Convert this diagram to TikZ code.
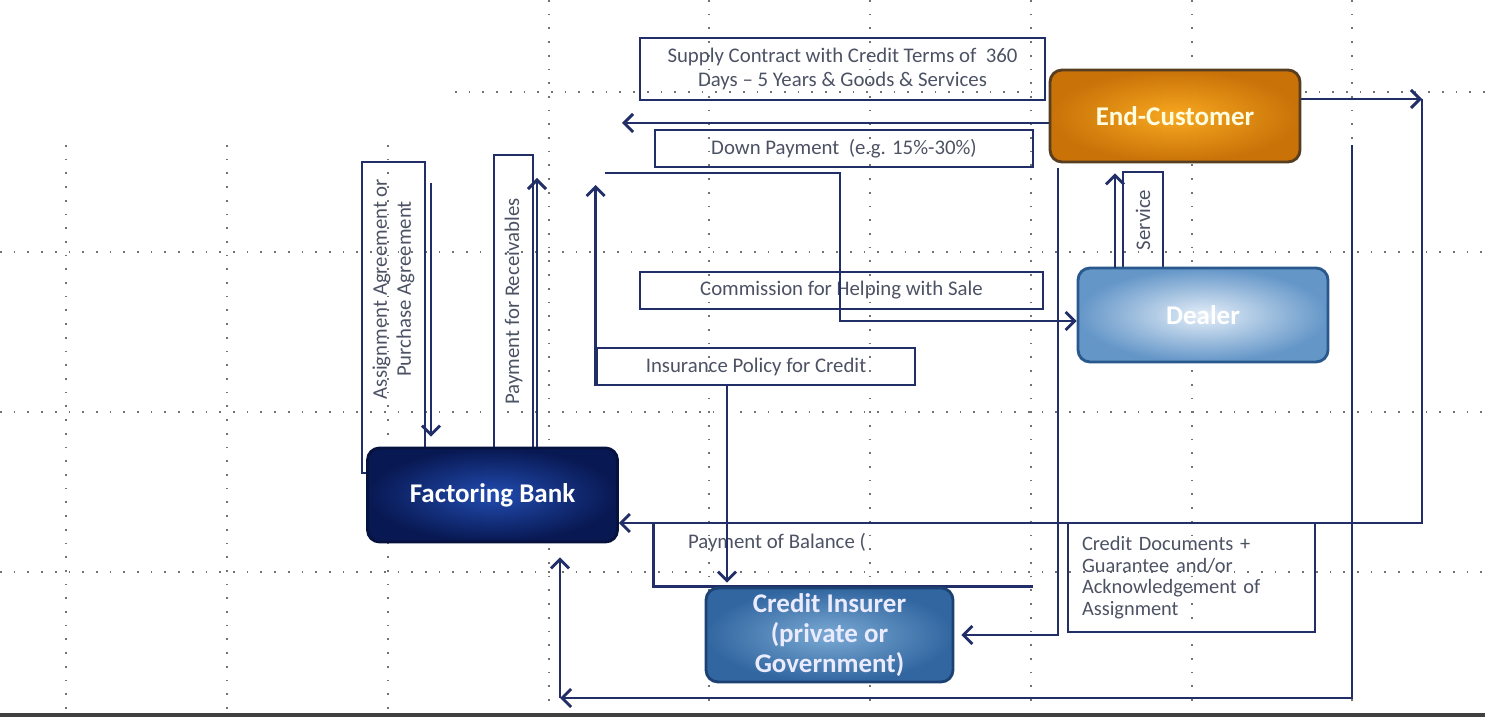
\documentclass[tikz,border=0pt]{standalone}
\usepackage{fontspec}
\setmainfont{Carlito}
\usetikzlibrary{arrows.meta}

\definecolor{flowblue}{RGB}{34,46,104}
\definecolor{labelgray}{RGB}{76,82,100}
\definecolor{custin}{RGB}{248,168,32}
\definecolor{custout}{RGB}{200,114,8}
\definecolor{custline}{RGB}{88,62,32}
\definecolor{dealin}{RGB}{228,238,248}
\definecolor{dealout}{RGB}{100,150,200}
\definecolor{dealline}{RGB}{40,88,140}
\definecolor{insin}{RGB}{122,170,212}
\definecolor{insout}{RGB}{50,102,160}
\definecolor{insline}{RGB}{28,66,116}
\definecolor{bankin}{RGB}{34,76,176}
\definecolor{bankout}{RGB}{8,24,82}
\definecolor{bankline}{RGB}{6,18,62}

\tikzset{
	flow/.style={line width=0.5mm, color=flowblue},
	arr/.style={flow, -{Straight Barb[length=4.5pt,width=9pt]}},
	labelbox/.style={draw=flowblue, line width=0.5mm, text=labelgray, inner sep=0pt, align=center, font=\fontsize{10.4}{12}\selectfont},
	party/.style={rounded corners=6pt, line width=0.5mm, inner sep=0pt, align=center, minimum width=125pt, minimum height=47pt, font=\fontsize{13.5}{15}\selectfont\bfseries},
	gridline/.style={line width=0.3mm, color=black!55, dash pattern=on 0.3mm off 6pt},
}

\begin{document}
\begin{tikzpicture}[x=0.5pt,y=-0.5pt]
		%%%%% START %%%%%
		
		\useasboundingbox (0,0) rectangle (1485,721);
		
		\draw[gridline] (455,92) -- (1485,92);
		\draw[gridline] (0,252) -- (1485,252);
		\draw[gridline] (0,412) -- (1485,412);
		\draw[gridline] (0,572) -- (1485,572);
		\draw[gridline] (66,145) -- (66,721);
		\draw[gridline] (227,145) -- (227,721);
		\draw[gridline] (388,145) -- (388,721);
		\draw[gridline] (549,0) -- (549,721);
		\draw[gridline] (709,0) -- (709,721);
		\draw[gridline] (870,0) -- (870,721);
		\draw[gridline] (1031,0) -- (1031,721);
		\draw[gridline] (1192,0) -- (1192,721);
		\draw[gridline] (1352,0) -- (1352,721);
		
		\draw[line width=0.6mm, color=black!75] (0,715) -- (1485,715);
		
		\node[labelbox, minimum width=202.5pt, minimum height=31pt] (supply) at (842.5,69) {Supply Contract with Credit Terms of~ 360\\Days – 5 Years \& Goods \& Services};
		\node[labelbox, minimum width=189pt, minimum height=18.5pt] (down) at (844,148.5) {Down Payment~ (e.g. 15\%-30\%)};
		\node[labelbox, minimum width=201.5pt, minimum height=18.5pt] (commission) at (841.5,290.5) {Commission for Helping with Sale};
		\node[labelbox, minimum width=159pt, minimum height=18.5pt] (insurance) at (756,366.5) {Insurance Policy for Credit};
		\node[labelbox, rotate=90, minimum width=48pt, minimum height=20pt] (service) at (1143,220) {Service};
		\node[labelbox, rotate=90, minimum width=146.5pt, minimum height=19.5pt] (receivables) at (513.5,301.5) {Payment for Receivables};
		\node[labelbox, minimum width=31.5pt, minimum height=155.5pt] (assignbox) at (393.5,317.5) {};
		\node[labelbox, draw=none, rotate=90] (assigntxt) at (393.5,289) {Assignment Agreement or\\Purchase Agreement};
		\node[labelbox, draw=none, minimum width=188.5pt, minimum height=31pt] (balance) at (843.5,554) {};
		\node[labelbox, draw=none] (balancetxt) at (777,543) {Payment of Balance (};
		\draw[flow] (balance.north west) -- (balance.south west) -- (balance.south east);
		\node[labelbox, align=left, text width=109.5pt, inner xsep=7pt, minimum height=54.5pt, font=\fontsize{10.2}{10.8}\selectfont] (documents) at (1191.5,577.5) {Credit Documents +\\Guarantee and/or\\Acknowledgement of\\Assignment};
		
		\node[party, minimum height=46pt, draw=custline, inner color=custin, outer color=custout, text=white!88!yellow] (customer) at (1175,116) {End-Customer};
		\node[party, draw=dealline, inner color=dealin, outer color=dealout, text=white] (dealer) at (1203,315) {Dealer};
		\node[party, minimum width=123.5pt, draw=insline, inner color=insin, outer color=insout, text=white!92!blue] (insurer) at (829.5,635) {Credit Insurer\\(private or\\Government)};
		\node[party, draw=bankline, inner color=bankin, outer color=bankout, text=white] (bank) at (492.5,495) {Factoring Bank};
		
		\coordinate (dpend) at (622,123);
		\draw[arr] (customer.west |- dpend) -- (dpend);
		
		\coordinate (ecturn) at (1422,99);
		\coordinate (ecdown) at (1422,523);
		\draw[arr] (customer.east |- ecturn) -- (ecturn);
		\draw[arr] (ecturn) -- (ecdown) -- (bank.east |- ecdown);
		
		\coordinate (rtop) at (1352,145);
		\coordinate (rbot) at (1352,698);
		\coordinate (lbot) at (560,698);
		\draw[arr] (rtop) -- (rbot) -- (lbot);
		\draw[arr, shorten >=7pt] (lbot) -- (lbot |- bank.south);
		
		\coordinate (ctop) at (1058,168);
		\draw[arr, shorten >=3.5pt] (ctop) -- (ctop |- insurer.east) -- (insurer.east);
		
		\coordinate (svc) at (1115,268);
		\draw[arr, shorten >=5pt] (svc) -- (svc |- customer.south);
		
		\coordinate (cmstart) at (605,173);
		\coordinate (cmturn) at (840,173);
		\coordinate (cmlow) at (840,321);
		\draw[arr] (cmstart) -- (cmturn) -- (cmlow) -- (dealer.west |- cmlow);
		
		\coordinate (uptip) at (598,185);
		\draw[arr] (insurance.south west) -- (insurance.south west |- uptip);
		
		\coordinate (insdown) at (727,385);
		\draw[arr, shorten >=2pt] (insdown) -- (insdown |- insurer.north);
		
		\coordinate (asgtop) at (431,183);
		\draw[arr, shorten >=5pt] (asgtop) -- (asgtop |- bank.north);
		
		\coordinate (rcvtop) at (537,178);
		\draw[arr] (rcvtop |- bank.north) -- (rcvtop);
		
		%%%%% END %%%%%
	\end{tikzpicture}
\end{document}
